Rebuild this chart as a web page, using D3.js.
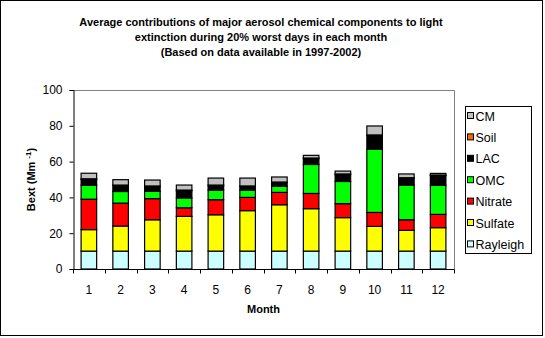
<!DOCTYPE html>
<html>
<head>
<meta charset="utf-8">
<script src="https://cdnjs.cloudflare.com/ajax/libs/d3/7.8.5/d3.min.js"></script>
<style>
  body { margin: 0; background: #fff; }
  text { font-family: "Liberation Sans", Arial, sans-serif; }
</style>
</head>
<body>
<div id="chart"></div>
<script>
(function() {
var WIDTH = 545;
var HEIGHT = 338;

var months = ['1', '2', '3', '4', '5', '6', '7', '8', '9', '10', '11', '12'];
var components = ['Rayleigh', 'Sulfate', 'Nitrate', 'OMC', 'LAC', 'Soil', 'CM'];
var colors = ['#ccffff', '#ffff00', '#ff0000', '#00ff00', '#000000', '#ff6600', '#c0c0c0'];

var rayleigh = [10, 10, 10, 10, 10, 10, 10, 10, 10, 10, 10, 10];
var sulfate  = [12, 14, 17.5, 19.4, 20.3, 22.6, 25.9, 23.7, 18.7, 13.8, 11.6, 13.1];
var nitrate  = [17, 12.8, 11.8, 4.8, 8.4, 7.4, 6.9, 8.5, 7.8, 7.8, 5.9, 7.4];
var omc      = [7.8, 6.5, 4.1, 5.5, 5.4, 4.1, 3.4, 16.2, 12.4, 35.4, 19.4, 16.2];
var lac      = [3.2, 3.2, 2.6, 4, 2.4, 1.9, 2, 3.2, 3.8, 7.5, 3.7, 5.4];
var soil     = [0.4, 0.4, 0.4, 0.4, 0.4, 0.4, 0.4, 0.4, 0.4, 0.4, 0.4, 0.4];
var cm       = [3.1, 3, 3.3, 2.8, 3.9, 4.4, 2.8, 1.5, 1.6, 5, 2.1, 0.9];
var yTicks = [0, 20, 40, 60, 80, 100];

var series = [rayleigh, sulfate, nitrate, omc, lac, soil, cm];
var rows = months.map(function(m, i) {
  var row = { month: m };
  components.forEach(function(c, k) { row[c] = series[k][i]; });
  return row;
});
var stacked = d3.stack().keys(components)(rows);

var svg = d3.select('#chart').append('svg')
  .attr('width', WIDTH)
  .attr('height', HEIGHT);

// outer frame
svg.append('rect')
  .attr('x', 0.5).attr('y', 0.5)
  .attr('width', 542).attr('height', 335)
  .attr('fill', 'none').attr('stroke', '#000');

var left = 73, right = 454, top = 90, bottom = 269;

var x = d3.scaleBand().domain(months).range([left, right]).paddingInner(0.51).paddingOuter(0.255);
var y = d3.scaleLinear().domain([0, 100]).range([bottom, top]);

// plot area border (gray, top and right)
svg.append('path')
  .attr('d', 'M' + left + ',' + (top + 0.5) + 'H' + (right + 0.5) + 'V' + bottom)
  .attr('fill', 'none').attr('stroke', '#808080');

svg.append('g').selectAll('g')
  .data(stacked)
  .join('g')
  .attr('fill', function(d, k) { return colors[k]; })
  .selectAll('rect')
  .data(function(d) { return d; })
  .join('rect')
  .attr('x', function(d) { return x(d.data.month); })
  .attr('y', function(d) { return y(d[1]); })
  .attr('width', x.bandwidth())
  .attr('height', function(d) { return y(d[0]) - y(d[1]); })
  .attr('stroke', '#000')
  .attr('stroke-width', 1.2);

// y axis
var yAxis = svg.append('g')
  .attr('transform', 'translate(' + (left + 0.5) + ',0)')
  .call(d3.axisLeft(y).tickValues(yTicks).tickSize(4).tickPadding(7));
yAxis.select('.domain').attr('stroke', '#000');
yAxis.selectAll('text').attr('font-size', 12).attr('fill', '#000');

// x axis with ticks between categories
var xAxis = svg.append('g')
  .attr('transform', 'translate(0,' + (bottom + 0.5) + ')');
xAxis.append('line')
  .attr('x1', left).attr('x2', right + 0.5)
  .attr('stroke', '#000');
var step = x.step();
xAxis.selectAll('.tk')
  .data(d3.range(months.length + 1))
  .join('line')
  .attr('class', 'tk')
  .attr('x1', function(i) { return Math.round(left + i * step) + 0.5; })
  .attr('x2', function(i) { return Math.round(left + i * step) + 0.5; })
  .attr('y1', 0).attr('y2', 4)
  .attr('stroke', '#000');
xAxis.selectAll('.lbl')
  .data(months)
  .join('text')
  .attr('class', 'lbl')
  .attr('x', function(m) { return x(m) + x.bandwidth() / 2; })
  .attr('y', 24)
  .attr('text-anchor', 'middle')
  .attr('font-size', 12)
  .text(function(m) { return m; });

svg.append('text')
  .attr('x', (left + right) / 2)
  .attr('y', 313)
  .attr('text-anchor', 'middle')
  .attr('font-size', 11)
  .attr('font-weight', 'bold')
  .text('Month');

var yTitle = svg.append('text')
  .attr('transform', 'translate(35,' + ((top + bottom) / 2) + ') rotate(-90)')
  .attr('text-anchor', 'middle')
  .attr('font-size', 11)
  .attr('font-weight', 'bold');
yTitle.append('tspan').text('Bext (Mm ');
yTitle.append('tspan').attr('font-size', 8).attr('dy', -4).text('-1');
yTitle.append('tspan').attr('dy', 4).text(')');

// title
var titleLines = [
  'Average contributions of major aerosol chemical components to light',
  'extinction during 20% worst days in each month',
  '(Based on data available in 1997-2002)'
];
svg.append('g').selectAll('text')
  .data(titleLines)
  .join('text')
  .attr('x', 261)
  .attr('y', function(d, i) { return 26 + i * 15; })
  .attr('text-anchor', 'middle')
  .attr('font-size', 11)
  .attr('font-weight', 'bold')
  .text(function(d) { return d; });

// legend
var legend = svg.append('g');
legend.append('rect')
  .attr('x', 465.5).attr('y', 106.5)
  .attr('width', 66).attr('height', 147)
  .attr('fill', '#fff').attr('stroke', '#000');
var items = components.slice().reverse();
var legendItem = legend.selectAll('g')
  .data(items)
  .join('g')
  .attr('transform', function(d, i) { return 'translate(467,' + (116 + i * 21.4) + ')'; });
legendItem.append('rect')
  .attr('x', 0.5).attr('y', -3.5)
  .attr('width', 6).attr('height', 6)
  .attr('fill', function(d) { return colors[components.indexOf(d)]; })
  .attr('stroke', '#000');
legendItem.append('text')
  .attr('x', 8.5)
  .attr('y', 4.5)
  .attr('font-size', 12.5)
  .text(function(d) { return d; });
})();
</script>
</body>
</html>
